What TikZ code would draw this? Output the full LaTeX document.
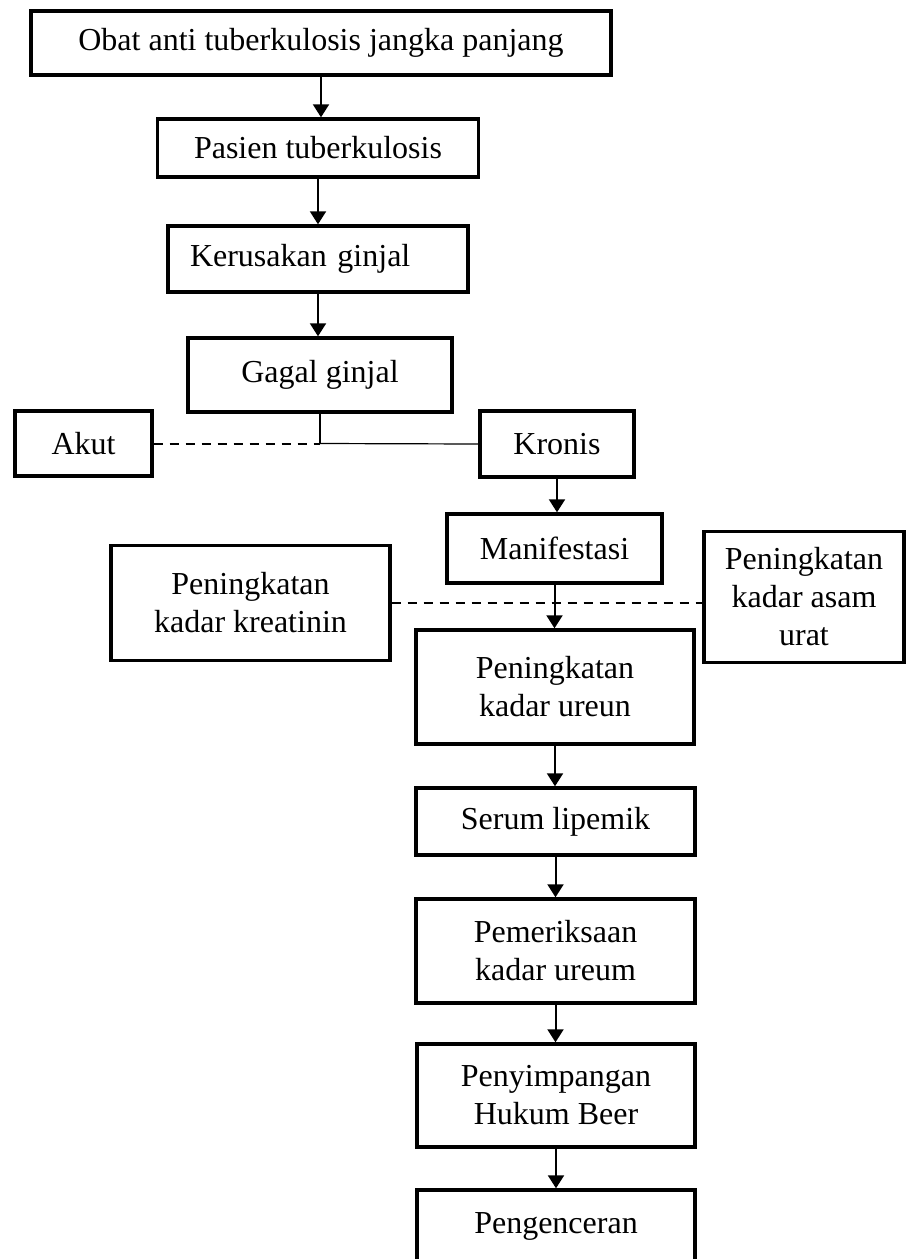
\documentclass[tikz,border=0pt]{standalone}
\usepackage{fontspec}
\setmainfont{Liberation Serif}
\usetikzlibrary{arrows.meta,positioning}
\tikzset{
  bx/.style   = {draw, line width=1.7pt, inner sep=0pt, align=center,
                 font=\fontsize{16}{19}\selectfont},
  arr/.style  = {-{Triangle[width=8pt,length=6.5pt]}, line width=1pt},
  lnk/.style  = {line width=0.6pt},
  lnkd/.style = {line width=1pt, dash pattern=on 4.5pt off 3.5pt},
}
\begin{document}
\begin{tikzpicture}[x=0.5pt, y=-0.5pt]
  \useasboundingbox (0,0) rectangle (906,1259);
  % main chain
  \node[bx, minimum width=290pt, minimum height=32pt] (obat) at (321,43) {Obat anti tuberkulosis jangka panjang};
  \node[bx, minimum width=160.5pt, minimum height=29pt] (pasien) at (318,148) {Pasien tuberkulosis};
  \node[bx, minimum width=150pt, minimum height=33pt, text width=128pt, inner xsep=11pt, align=left] (rusak) at (318,259) {Kerusakan ginjal};
  \node[bx, minimum width=132pt, minimum height=37pt] (gagal) at (320,375) {Gagal ginjal};
  \node[bx, minimum width=68.5pt, minimum height=32.5pt] (akut) at (83.5,443.5) {Akut};
  \node[bx, minimum width=77pt, minimum height=33pt] (kronis) at (557,444) {Kronis};
  \node[bx, minimum width=107.5pt, minimum height=34.5pt] (manif) at (554.5,548.5) {Manifestasi};
  \node[bx, minimum width=139.5pt, minimum height=57.5pt] (kreat) at (250.5,603) {Peningkatan\\kadar kreatinin};
  \node[bx, minimum width=100pt, minimum height=65.5pt] (asam) at (804,597) {Peningkatan\\kadar asam\\urat};
  \node[bx, minimum width=139pt, minimum height=57pt] (ureun) at (555,687) {Peningkatan\\kadar ureun};
  \node[bx, minimum width=139.5pt, minimum height=33.5pt] (serum) at (555.5,821.5) {Serum lipemik};
  \node[bx, minimum width=139.5pt, minimum height=52pt] (periksa) at (555.5,951) {Pemeriksaan\\kadar ureum};
  \node[bx, minimum width=139pt, minimum height=51.5pt] (beer) at (556,1095.5) {Penyimpangan\\Hukum Beer};
  \node[bx, minimum width=139pt, minimum height=36pt] (encer) at (556,1226) {Pengenceran};
  % connectors
  \draw[arr] (obat.south) -- (obat.south |- pasien.north);
  \draw[arr] (pasien.south) -- (pasien.south |- rusak.north);
  \draw[arr] (rusak.south) -- (rusak.south |- gagal.north);
  \coordinate (cab) at (gagal.south |- akut.east);
  \draw[lnk] (gagal.south) -- (cab);
  \draw[lnkd] (akut.east) -- (cab);
  \draw[lnk] (cab) -- (kronis.west);
  \draw[arr] (kronis.south) -- (kronis.south |- manif.north);
  \draw[arr] (manif.south) -- (manif.south |- ureun.north);
  \draw[lnkd] (kreat.east) -- (kreat.east -| asam.west);
  \draw[arr] (ureun.south) -- (ureun.south |- serum.north);
  \draw[arr] (serum.south) -- (serum.south |- periksa.north);
  \draw[arr] (periksa.south) -- (periksa.south |- beer.north);
  \draw[arr] (beer.south) -- (beer.south |- encer.north);
\end{tikzpicture}
\end{document}
